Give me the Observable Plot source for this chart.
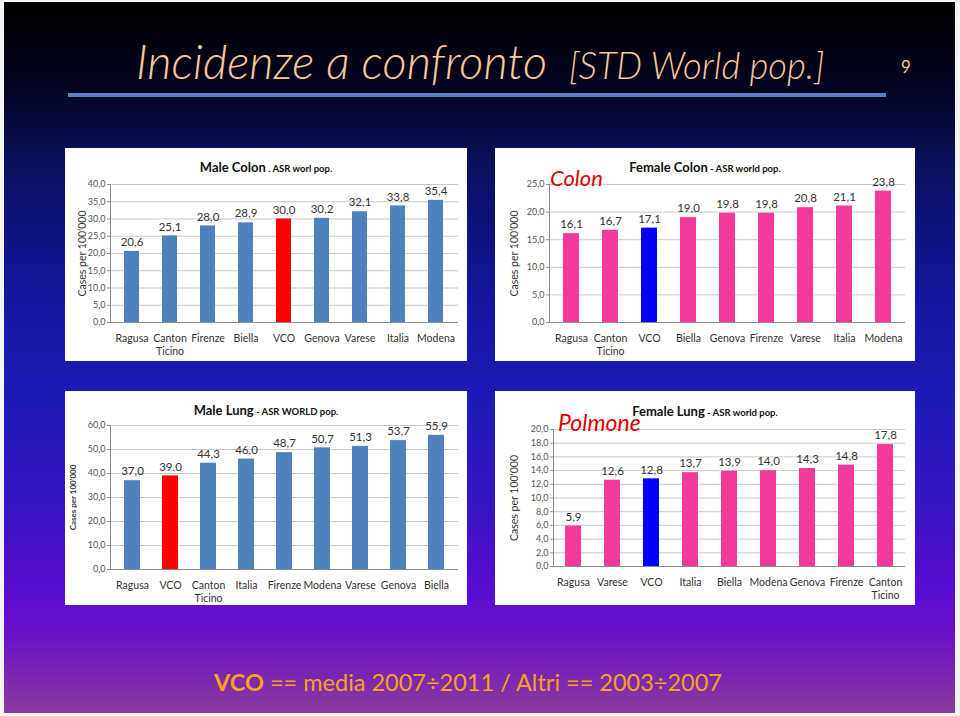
<!DOCTYPE html>
<html>
<head>
<meta charset="utf-8">
<script src="https://cdn.jsdelivr.net/npm/d3@7"></script>
<script src="https://cdn.jsdelivr.net/npm/@observablehq/plot@0.6"></script>
<style>
  html, body { margin: 0; padding: 0; background: #f4f4f4; }
  body { width: 960px; height: 716px; position: relative; overflow: hidden; font-family: Lato, "Open Sans", sans-serif; }
  #slide {
    position: absolute; left: 4px; top: 2px; width: 951px; height: 711px;
    background: linear-gradient(to bottom, #000000 0%, #02031c 11%, #0a0f5a 22%, #1515a0 42%, #1c1ab4 55%, #3a14c4 72%, #5a0cd0 83%, #6c14c4 90%, #8c3a9c 100%);
  }
  .title { position: absolute; left: 136px; top: 38px; line-height: 1; color: #f9c79a; font-style: italic; white-space: nowrap; font-weight: 300; }
  .title .big { font-size: 47px; }
  .title .small { font-size: 36.5px; margin-left: 22px; }
  .pagenum { position: absolute; left: 901px; top: 56px; color: #f9c79a; font-size: 17px; }
  .rule { position: absolute; left: 68px; top: 93px; width: 818px; height: 4px; background: #5b82c4; }
  .panel { position: absolute; background: white; }
  .ptitle { position: absolute; left: 0; right: 0; text-align: center; font-weight: bold; color: #111; white-space: nowrap; }
  .ptitle .main { font-size: 13px; }
  .ptitle .sub { font-size: 9.5px; }
  .red { position: absolute; color: #e00000; font-style: italic; white-space: nowrap; }
  .footer { position: absolute; left: 0; width: 936px; top: 668px; text-align: center; color: #f7a21b; font-size: 23.5px; white-space: nowrap; }
</style>
</head>
<body>
<div id="slide"></div>
<div class="title"><span class="big">Incidenze a confronto</span><span class="small">[STD World pop.]</span></div>
<div class="pagenum">9</div>
<div class="rule"></div>
<div class="footer"><b>VCO</b> == media 2007÷2011 / Altri == 2003÷2007</div>
<script>
// ---- Data ----
const maleColonCities = ["Ragusa", "Canton Ticino", "Firenze", "Biella", "VCO", "Genova", "Varese", "Italia", "Modena"];
const maleColonValues = [20.6, 25.1, 28.0, 28.9, 30.0, 30.2, 32.1, 33.8, 35.4];
const maleColonTicks = [0, 5, 10, 15, 20, 25, 30, 35, 40];

const femaleColonCities = ["Ragusa", "Canton Ticino", "VCO", "Biella", "Genova", "Firenze", "Varese", "Italia", "Modena"];
const femaleColonValues = [16.1, 16.7, 17.1, 19.0, 19.8, 19.8, 20.8, 21.1, 23.8];
const femaleColonTicks = [0, 5, 10, 15, 20, 25];

const maleLungCities = ["Ragusa", "VCO", "Canton Ticino", "Italia", "Firenze", "Modena", "Varese", "Genova", "Biella"];
const maleLungValues = [37.0, 39.0, 44.3, 46.0, 48.7, 50.7, 51.3, 53.7, 55.9];
const maleLungTicks = [0, 10, 20, 30, 40, 50, 60];

const femaleLungCities = ["Ragusa", "Varese", "VCO", "Italia", "Biella", "Modena", "Genova", "Firenze", "Canton Ticino"];
const femaleLungValues = [5.9, 12.6, 12.8, 13.7, 13.9, 14.0, 14.3, 14.8, 17.8];
const femaleLungTicks = [0, 2, 4, 6, 8, 10, 12, 14, 16, 18, 20];

const highlight = "VCO";
const yLabel = "Cases per 100'000";

const fmt = v => v.toFixed(1).replace(".", ",");

function makePanel(cfg) {
  const data = cfg.cities.map((c, i) => ({city: c, value: cfg.values[i]}));
  const panel = document.createElement("div");
  panel.className = "panel";
  Object.assign(panel.style, {left: cfg.left + "px", top: cfg.top + "px", width: cfg.width + "px", height: cfg.height + "px"});

  const chart = Plot.plot({
    width: cfg.width,
    height: cfg.height,
    marginLeft: cfg.ml, marginRight: cfg.mr, marginTop: cfg.mt, marginBottom: cfg.mb,
    style: {fontFamily: "Lato, 'Open Sans', sans-serif", background: "white", overflow: "visible"},
    x: {domain: cfg.cities, paddingInner: cfg.pi, paddingOuter: cfg.po},
    y: {domain: [0, cfg.ticks[cfg.ticks.length - 1]]},
    marks: [
      Plot.gridY(cfg.ticks, {stroke: "#c9c9c9", strokeOpacity: 1}),
      Plot.barY(data, {x: "city", y: "value", fill: d => d.city === highlight ? cfg.hiColor : cfg.color}),
      Plot.text(data, {x: "city", y: "value", text: d => fmt(d.value), dy: -9, fontSize: 11.5, fill: "#333"}),
      Plot.ruleY([0], {stroke: "#8c8c8c"}),
      Plot.frame({anchor: "left", stroke: "#8c8c8c"}),
      Plot.axisY({ticks: cfg.ticks, tickFormat: fmt, tickSize: 3, tickPadding: 2, stroke: "#8c8c8c", fontSize: 9, color: "#555", label: null}),
      Plot.axisY({ticks: [], label: yLabel, labelAnchor: "center", labelArrow: "none", labelOffset: cfg.lo,
        fontSize: cfg.labelSize, fontWeight: cfg.labelBold ? "bold" : "normal", color: "#333"}),
      Plot.axisX({tickSize: 0, tickPadding: 10, fontSize: 10.5, lineHeight: 1.25, color: "#333", label: null,
        tickFormat: d => d.replace(" ", "\n")})
    ]
  });
  panel.appendChild(chart);

  const t = document.createElement("div");
  t.className = "ptitle";
  t.style.top = cfg.titleTop + "px";
  t.innerHTML = `<span class="main">${cfg.title}</span><span class="sub">${cfg.sub}</span>`;
  panel.appendChild(t);

  if (cfg.red) {
    const r = document.createElement("div");
    r.className = "red";
    r.textContent = cfg.red;
    Object.assign(r.style, {left: cfg.redLeft + "px", top: cfg.redTop + "px", fontSize: cfg.redSize + "px"});
    panel.appendChild(r);
  }
  document.body.appendChild(panel);
}

makePanel({cities: maleColonCities, values: maleColonValues, ticks: maleColonTicks,
  left: 65, top: 148, width: 402, height: 213, ml: 45, mr: 9, mt: 36, mb: 39, pi: 0.6, po: 0.35, lo: 32,
  labelSize: 10.5, labelBold: false,
  color: "#4f81bd", hiColor: "#ff0000", title: "Male Colon", sub: " . ASR worl pop.", titleTop: 8});

makePanel({cities: femaleColonCities, values: femaleColonValues, ticks: femaleColonTicks,
  left: 495, top: 148, width: 420, height: 213, ml: 54, mr: 10, mt: 36, mb: 39, pi: 0.6, po: 0.28, lo: 39,
  labelSize: 10.5, labelBold: false,
  color: "#f23a9c", hiColor: "#0000ff", title: "Female Colon", sub: " - ASR world pop.", titleTop: 8,
  red: "Colon", redLeft: 55, redTop: 16, redSize: 22});

makePanel({cities: maleLungCities, values: maleLungValues, ticks: maleLungTicks,
  left: 65, top: 391, width: 402, height: 214, ml: 45, mr: 9, mt: 34, mb: 36, pi: 0.59, po: 0.28, lo: 40,
  labelSize: 8, labelBold: true,
  color: "#4f81bd", hiColor: "#ff0000", title: "Male Lung", sub: " - ASR WORLD pop.", titleTop: 8});

makePanel({cities: femaleLungCities, values: femaleLungValues, ticks: femaleLungTicks,
  left: 495, top: 391, width: 420, height: 214, ml: 58, mr: 10, mt: 38, mb: 39, pi: 0.59, po: 0.28, lo: 43,
  labelSize: 10.5, labelBold: false,
  color: "#f23a9c", hiColor: "#0000ff", title: "Female Lung", sub: " - ASR world pop.", titleTop: 9,
  red: "Polmone", redLeft: 63, redTop: 17, redSize: 23});
</script>
</body>
</html>
